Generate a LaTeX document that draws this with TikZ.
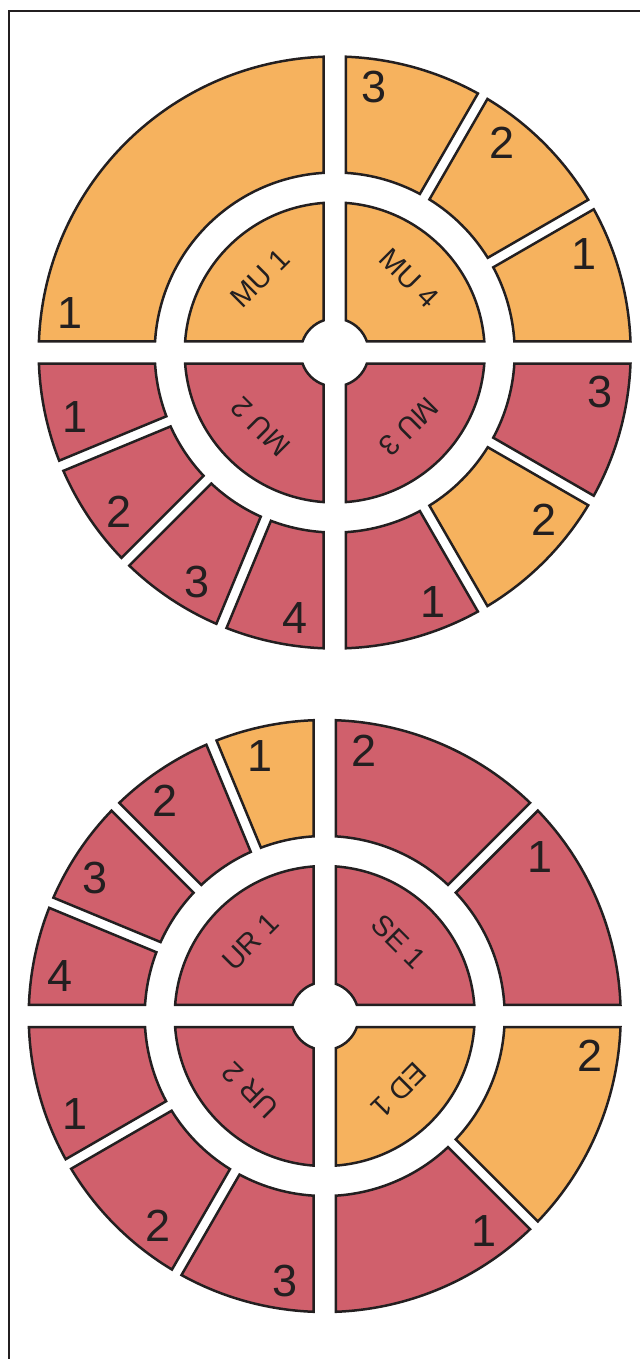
\documentclass[tikz,border=0pt]{standalone}
\usepackage{fontspec}
\setmainfont{Liberation Sans}
\usepackage{xcolor}
\usepackage{tikz}
\definecolor{cambar}{HTML}{F6B25E}
\definecolor{ccoral}{HTML}{D0606C}
\definecolor{ctrazo}{HTML}{231F20}
\tikzset{
  sector/.style={draw=ctrazo, line width=2.5pt, line join=miter},
  secn/.style={sector, fill=cambar},
  secr/.style={sector, fill=ccoral},
  num/.style={font=\fontsize{45}{45}\selectfont, text=ctrazo, inner sep=0pt},
  etqi/.style={font=\fontsize{29}{29}\selectfont, text=ctrazo, inner sep=0pt},
  marco/.style={draw=ctrazo, line width=2pt},
}
\newcommand{\anillo}[7]{%
  \draw[#2] ({#3+asin(#5/296)}:296) arc[start angle={#3+asin(#5/296)}, end angle={#4-asin(#6/296)}, radius=296pt]
    -- ({#4-asin(#6/180)}:180) arc[start angle={#4-asin(#6/180)}, end angle={#3+asin(#5/180)}, radius=180pt] -- cycle;
  \node[num] (#1) at ({#4-8.5}:268) {#7};}
\newcommand{\centro}[4]{%
  \draw[#2] ({#3+asin(11.2/150)}:150) arc[start angle={#3+asin(11.2/150)}, end angle={#3+90-asin(11.2/150)}, radius=150pt]
    -- ({#3+90-asin(11.2/34)}:34) arc[start angle={#3+90-asin(11.2/34)}, end angle={#3+asin(11.2/34)}, radius=34pt] -- cycle;
  \node[etqi, rotate=#3-45] (#1) at ({#3+45}:105) {#4};}

\begin{document}
\begin{tikzpicture}[x=1pt, y=1pt]
  \useasboundingbox (0,0) rectangle (640,-1359);
  \draw[marco] (8.7,-1359) -- (8.7,-11.3) -- (640,-11.3);
  \coordinate (c1) at (334.7,-352.5);
  \coordinate (c2) at (324.7,-1016);
  \begin{scope}[shift={(c1)}]
    \anillo{a1}{secn}{90}{180}{11.2}{11.2}{1}
    \anillo{a2}{secn}{60}{90}{5.5}{11.2}{3}
    \anillo{a3}{secn}{30}{60}{5.5}{5.5}{2}
    \anillo{a4}{secn}{0}{30}{11.2}{5.5}{1}
    \anillo{a5}{secr}{-30}{0}{5.5}{11.2}{3}
    \anillo{a6}{secn}{-60}{-30}{5.5}{5.5}{2}
    \anillo{a7}{secr}{-90}{-60}{11.2}{5.5}{1}
    \anillo{a8}{secr}{247.5}{270}{5.5}{11.2}{4}
    \anillo{a9}{secr}{225}{247.5}{5.5}{5.5}{3}
    \anillo{a10}{secr}{202.5}{225}{5.5}{5.5}{2}
    \anillo{a11}{secr}{180}{202.5}{11.2}{5.5}{1}
    \centro{mu1}{secn}{90}{MU 1}
    \centro{mu4}{secn}{0}{MU 4}
    \centro{mu2}{secr}{180}{MU 2}
    \centro{mu3}{secr}{270}{MU 3}
  \end{scope}
  \begin{scope}[shift={(c2)}]
    \anillo{b1}{secn}{90}{112.5}{11.2}{5.5}{1}
    \anillo{b2}{secr}{112.5}{135}{5.5}{5.5}{2}
    \anillo{b3}{secr}{135}{157.5}{5.5}{5.5}{3}
    \anillo{b4}{secr}{157.5}{180}{5.5}{11.2}{4}
    \anillo{b5}{secr}{45}{90}{5.5}{11.2}{2}
    \anillo{b6}{secr}{0}{45}{11.2}{5.5}{1}
    \anillo{b7}{secn}{-45}{0}{5.5}{11.2}{2}
    \anillo{b8}{secr}{-90}{-45}{11.2}{5.5}{1}
    \anillo{b9}{secr}{180}{210}{11.2}{5.5}{1}
    \anillo{b10}{secr}{210}{240}{5.5}{5.5}{2}
    \anillo{b11}{secr}{240}{270}{5.5}{11.2}{3}
    \centro{ur1}{secr}{90}{UR 1}
    \centro{se1}{secr}{0}{SE 1}
    \centro{ur2}{secr}{180}{UR 2}
    \centro{ed1}{secn}{270}{ED 1}
  \end{scope}
\end{tikzpicture}
\end{document}
